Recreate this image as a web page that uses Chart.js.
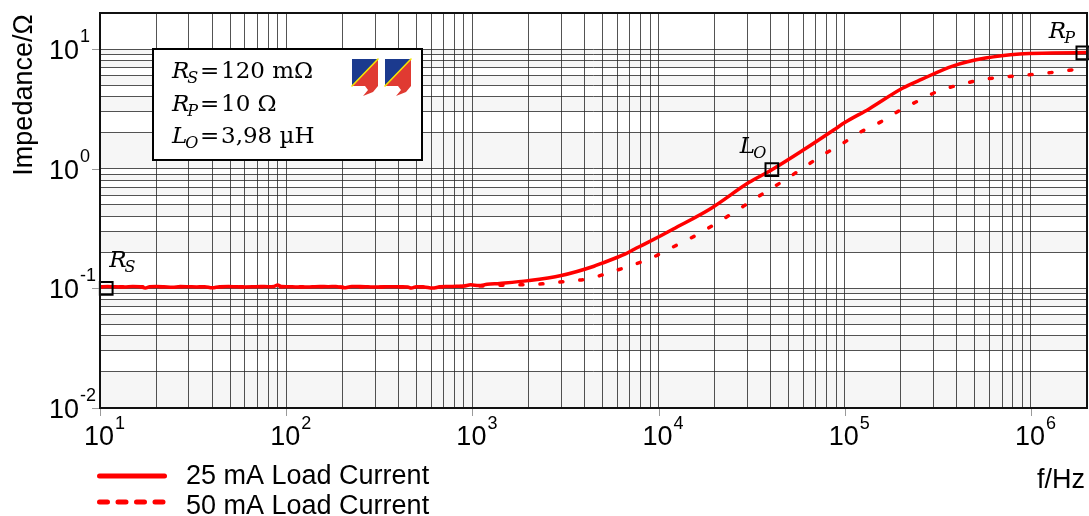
<!DOCTYPE html>
<html><head><meta charset="utf-8">
<script src="https://cdn.jsdelivr.net/npm/chart.js@4.4.1/dist/chart.umd.min.js"></script>
<style>html,body{margin:0;padding:0;background:#fff;}canvas{display:block;}</style>
</head><body>
<canvas id="c" width="1089" height="516"></canvas>
<script>
// ---------- data ----------
const freq25 = [10, 11, 12, 13.5, 15, 16.5, 17.5, 18.5, 20, 22, 24.5, 27, 30, 33, 36.5, 40, 44, 49, 54, 60, 66, 73, 80, 86, 90, 94, 102, 112, 125, 138, 152, 168, 185, 204, 225, 250, 275, 305, 335, 370, 410, 450, 470, 500, 550, 610, 670, 740, 820, 900, 980, 1080, 1200, 1400, 2000, 3000, 4500, 4900, 6600, 7400, 8400, 10400, 12000, 19300, 30500, 40600, 59000, 89000, 100000, 135000, 204000, 260000, 380000, 570000, 870000, 1300000, 2000000];
const imp25 = [0.103, 0.1035, 0.103, 0.1028, 0.1035, 0.103, 0.1005, 0.103, 0.1035, 0.103, 0.102, 0.1035, 0.1032, 0.1028, 0.1033, 0.101, 0.1032, 0.1035, 0.103, 0.1028, 0.103, 0.1035, 0.1033, 0.1038, 0.1065, 0.1035, 0.1032, 0.1028, 0.1025, 0.103, 0.1035, 0.1033, 0.1038, 0.101, 0.1035, 0.1035, 0.103, 0.1025, 0.103, 0.1032, 0.103, 0.1025, 0.1005, 0.103, 0.1028, 0.1005, 0.103, 0.1035, 0.104, 0.1045, 0.107, 0.1055, 0.108, 0.110, 0.116, 0.128, 0.153, 0.161, 0.193, 0.212, 0.234, 0.278, 0.313, 0.47, 0.765, 0.98, 1.41, 2.15, 2.43, 3.16, 4.7, 5.6, 7.2, 8.4, 9.1, 9.25, 9.35];
const freq50 = [10, 30, 100, 300, 1000, 1370, 1830, 2390, 3130, 4170, 5420, 7000, 9070, 11500, 14700, 18600, 23800, 30000, 37600, 48000, 60000, 75000, 97000, 120000, 156000, 200000, 254000, 320000, 430000, 530000, 720000, 980000, 1270000, 1800000];
const imp50 = [0.103, 0.1032, 0.103, 0.1028, 0.104, 0.106, 0.107, 0.109, 0.114, 0.12, 0.135, 0.154, 0.178, 0.215, 0.26, 0.32, 0.405, 0.51, 0.64, 0.81, 1.02, 1.28, 1.62, 2.0, 2.46, 3.1, 3.76, 4.47, 5.1, 5.5, 5.85, 6.1, 6.35, 6.8];
const markerFreq = [10.8, 40600, 1900000];
const markerImp = [0.1, 0.98, 9.3];
const markerNames = [["R", "S"], ["L", "O"], ["R", "P"]];
const xDecades = [1, 2, 3, 4, 5, 6];      // tick labels 10^n
const yDecades = [-2, -1, 0, 1];
const seriesLabels = ["25 mA Load Current", "50 mA Load Current"];
const xTitle = "f/Hz";
const yTitle = "Impedance/Ω";
const boxSymbols = [["R", "S"], ["R", "P"], ["L", "O"]];
const boxValues = ["120 mΩ", "10 Ω", "3,98 µH"];
const xMin = 10, xMax = 2e6, yMin = 0.01, yMax = 20;

// grid tick values (1..9 per decade)
const xGrid = [], yGrid = [];
for (let e = 1; e <= 6; e++) for (let m = 1; m <= 9; m++) { const v = m * Math.pow(10, e); if (v <= xMax) xGrid.push(v); }
for (let e = -2; e <= 1; e++) for (let m = 1; m <= 9; m++) { const v = +(m * Math.pow(10, e)).toPrecision(6); if (v <= yMax) yGrid.push(v); }

const SANS = '"Liberation Sans", Arial, sans-serif';
const SERIF = '"DejaVu Serif", serif';
const RED = '#ff0000';

function drawSymbol(ctx, main, sub, x, y) {
  ctx.textAlign = 'left'; ctx.textBaseline = 'alphabetic'; ctx.fillStyle = '#000';
  ctx.font = 'italic 23px ' + SERIF;
  ctx.fillText(main, x, y);
  const w = ctx.measureText(main).width;
  ctx.font = 'italic 16px ' + SERIF;
  ctx.fillText(sub, x + w - 2, y + 5);
}

function drawLogo(ctx, x, y) {
  const w = 26, h = 27;
  ctx.fillStyle = '#1b3a8e';
  ctx.beginPath(); ctx.moveTo(x, y); ctx.lineTo(x + w, y); ctx.lineTo(x, y + h); ctx.closePath(); ctx.fill();
  ctx.fillStyle = '#e03a32';
  ctx.beginPath(); ctx.moveTo(x + w, y); ctx.lineTo(x + w, y + h); ctx.lineTo(x, y + h); ctx.closePath(); ctx.fill();
  ctx.beginPath(); ctx.moveTo(x + 13, y + h); ctx.lineTo(x + w, y + h); ctx.lineTo(x + 21, y + 33); ctx.lineTo(x + 11, y + 37); ctx.lineTo(x + 16, y + 31); ctx.closePath(); ctx.fill();
  ctx.strokeStyle = '#f4e400'; ctx.lineWidth = 1.6;
  ctx.beginPath(); ctx.moveTo(x + w, y); ctx.lineTo(x, y + h); ctx.stroke();
}

const deco = {
  id: 'deco',
  beforeDraw(chart) {
    const { ctx, chartArea: a, scales } = chart;
    ctx.save();
    ctx.fillStyle = '#fff'; ctx.fillRect(0, 0, chart.width, chart.height);
    ctx.fillStyle = '#f6f6f6';
    for (let i = 0; i < yGrid.length - 1; i++) {
      if (i % 2 === 0) {
        const y1 = scales.y.getPixelForValue(yGrid[i]);
        const y2 = scales.y.getPixelForValue(yGrid[i + 1]);
        ctx.fillRect(a.left, y2, a.right - a.left, y1 - y2);
      }
    }
    ctx.restore();
  },
  afterDraw(chart) {
    const { ctx, chartArea: a, scales } = chart;
    const sx = scales.x, sy = scales.y;
    ctx.save();
    // outer tick marks
    ctx.strokeStyle = '#9a9a9a'; ctx.lineWidth = 1;
    yDecades.forEach(e => { const y = Math.round(sy.getPixelForValue(Math.pow(10, e))) + 0.5; ctx.beginPath(); ctx.moveTo(a.left - 8, y); ctx.lineTo(a.left, y); ctx.stroke(); });
    xDecades.forEach(e => { const x = Math.round(sx.getPixelForValue(Math.pow(10, e))) + 0.5; ctx.beginPath(); ctx.moveTo(x, a.bottom); ctx.lineTo(x, a.bottom + 8); ctx.stroke(); });
    // frame
    ctx.strokeStyle = '#111'; ctx.lineWidth = 2;
    ctx.strokeRect(a.left, a.top, a.right - a.left, a.bottom - a.top);
    // y tick labels
    ctx.fillStyle = '#000'; ctx.textBaseline = 'alphabetic';
    yDecades.forEach(e => {
      const y = sy.getPixelForValue(Math.pow(10, e));
      ctx.font = '27px ' + SANS; ctx.textAlign = 'right';
      ctx.fillText('10', 79, y + 10);
      ctx.font = '18px ' + SANS; ctx.textAlign = 'left';
      ctx.fillText(String(e), 80, y - 7);
    });
    // x tick labels
    xDecades.forEach(e => {
      const x = sx.getPixelForValue(Math.pow(10, e));
      ctx.font = '27px ' + SANS; ctx.textAlign = 'center';
      ctx.fillText('10', x - 1, 445);
      const w = ctx.measureText('10').width;
      ctx.font = '18px ' + SANS; ctx.textAlign = 'left';
      ctx.fillText(String(e), x - 1 + w / 2 + 1, 429);
    });
    // axis titles
    ctx.font = '27px ' + SANS; ctx.textAlign = 'right';
    ctx.fillText(xTitle, 1085, 488);
    ctx.save(); ctx.translate(32, 95); ctx.rotate(-Math.PI / 2); ctx.textAlign = 'center';
    ctx.fillText(yTitle, 0, 0); ctx.restore();
    // legend
    ctx.strokeStyle = RED; ctx.lineWidth = 5; ctx.lineCap = 'round';
    ctx.beginPath(); ctx.moveTo(99.5, 476); ctx.lineTo(164.5, 476); ctx.stroke();
    ctx.setLineDash([8, 10.5]);
    ctx.beginPath(); ctx.moveTo(99.5, 502); ctx.lineTo(166, 502); ctx.stroke();
    ctx.setLineDash([]);
    ctx.fillStyle = '#000'; ctx.font = '27px ' + SANS; ctx.textAlign = 'left';
    ctx.fillText(seriesLabels[0], 186, 484);
    ctx.fillText(seriesLabels[1], 186, 514);
    // marker labels
    const offs = [[3, -21], [-32, -17], [-34, -15]];
    markerFreq.forEach((f, i) => {
      const x = sx.getPixelForValue(f), y = sy.getPixelForValue(markerImp[i]);
      drawSymbol(ctx, markerNames[i][0], markerNames[i][1], x + offs[i][0], y + offs[i][1]);
    });
    // info box
    ctx.fillStyle = '#fff'; ctx.fillRect(153, 49, 269, 111);
    ctx.strokeStyle = '#000'; ctx.lineWidth = 2; ctx.strokeRect(153, 49, 269, 111);
    const bases = [78, 111, 143];
    boxSymbols.forEach((s, i) => {
      drawSymbol(ctx, s[0], s[1], 172, bases[i]);
      ctx.font = '23px ' + SERIF; ctx.fillStyle = '#000'; ctx.textAlign = 'left';
      ctx.fillText('=', 200, bases[i]);
      ctx.fillText(boxValues[i], 221, bases[i]);
    });
    drawLogo(ctx, 352, 59);
    drawLogo(ctx, 385, 59);
    ctx.restore();
  }
};

new Chart(document.getElementById('c').getContext('2d'), {
  type: 'line',
  data: {
    datasets: [
      { label: 'markers', data: markerFreq.map((f, i) => ({ x: f, y: markerImp[i] })), showLine: false,
        pointStyle: 'rect', pointRadius: 9, pointBorderWidth: 2, pointBorderColor: '#000',
        pointBackgroundColor: 'rgba(0,0,0,0)', clip: false },
      { label: seriesLabels[0], data: freq25.map((f, i) => ({ x: f, y: imp25[i] })), borderColor: RED,
        borderWidth: 3.5, pointRadius: 0, cubicInterpolationMode: 'monotone', fill: false },
      { label: seriesLabels[1], data: freq50.map((f, i) => ({ x: f, y: imp50[i] })), borderColor: RED,
        borderWidth: 3.5, borderDash: [3, 17], borderCapStyle: 'round', pointRadius: 0,
        cubicInterpolationMode: 'monotone', fill: false }
    ]
  },
  options: {
    responsive: false, animation: false, devicePixelRatio: 1,
    layout: { autoPadding: false, padding: { left: 100, top: 13, right: 2, bottom: 108 } },
    plugins: { legend: { display: false }, tooltip: { enabled: false } },
    scales: {
      x: { type: 'logarithmic', min: xMin, max: xMax,
        afterBuildTicks: s => { s.ticks = xGrid.map(v => ({ value: v })); },
        afterFit: s => { s.height = 0; },
        ticks: { display: false }, grid: { color: 'rgba(40,40,40,0.8)', lineWidth: 1, drawTicks: false }, border: { display: false } },
      y: { type: 'logarithmic', min: yMin, max: yMax,
        afterBuildTicks: s => { s.ticks = yGrid.map(v => ({ value: v })); },
        afterFit: s => { s.width = 0; },
        ticks: { display: false }, grid: { color: 'rgba(40,40,40,0.8)', lineWidth: 1, drawTicks: false }, border: { display: false } }
    }
  },
  plugins: [deco]
});
</script>
</body></html>
